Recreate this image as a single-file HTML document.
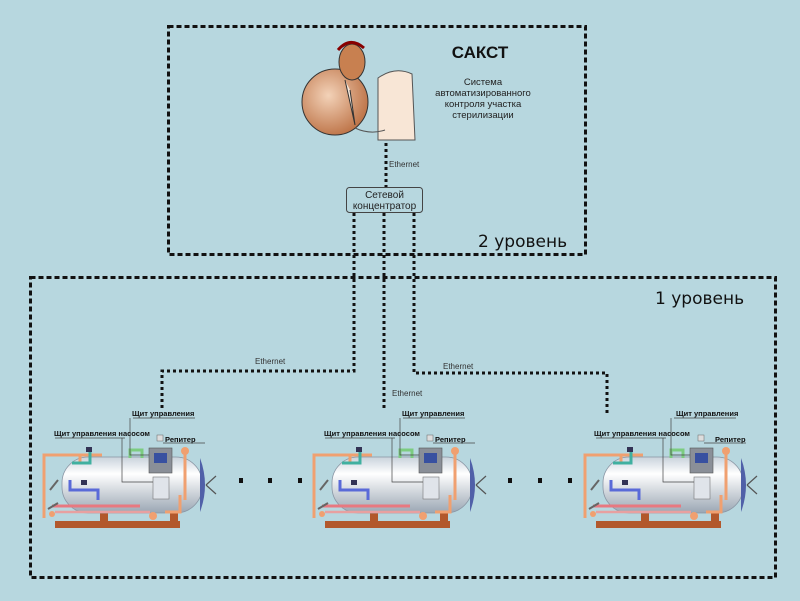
<!DOCTYPE html>
<html><head><meta charset="utf-8"><style>
html,body{margin:0;padding:0;background:#b7d7df;}
svg{display:block;font-family:"Liberation Sans",sans-serif;}
</style></head><body>
<svg width="800" height="601" viewBox="0 0 800 601">
<rect width="800" height="601" fill="#b7d7df"/>
<defs>
<linearGradient id="tk" x1="0" y1="0" x2="0" y2="1">
<stop offset="0" stop-color="#c9d3dc"/><stop offset="0.3" stop-color="#ffffff"/><stop offset="1" stop-color="#9aa6b3"/></linearGradient>
<radialGradient id="man" cx="0.4" cy="0.4" r="0.7"><stop offset="0" stop-color="#f3d2b8"/><stop offset="1" stop-color="#b86a3c"/></radialGradient>
<g id="ac">
 <rect x="25" y="121" width="125" height="7" fill="#b2582c"/>
 <rect x="70" y="100" width="8" height="25" fill="#b2582c"/>
 <rect x="140" y="100" width="8" height="25" fill="#b2582c"/>
 <rect x="32" y="57" width="140" height="56" rx="26" fill="url(#tk)" stroke="#8a96a4" stroke-width="0.8"/>
 <path d="M170 58 Q180 85 170 112" fill="#5060a8"/>
 <path d="M176 85 L186 76 M176 85 L186 94" stroke="#555" stroke-width="1.2"/>
 <path d="M14 118 V55 H72 M50 55 V62" stroke="#f0a070" stroke-width="3" fill="none"/>
 <path d="M42 63 H60 V50" stroke="#40b0a0" stroke-width="3" fill="none"/>
 <path d="M40 80 V90 H68 V100" stroke="#5a6ad8" stroke-width="3" fill="none"/>
 <path d="M22 106 H110" stroke="#e87880" stroke-width="3" fill="none"/>
 <path d="M25 112 H88 M82 112 H120" stroke="#e8a0a0" stroke-width="2.5" fill="none"/>
 <path d="M100 58 V50 H112 V58" stroke="#7ccc80" stroke-width="3" fill="none"/>
 <path d="M135 112 H150 V95" stroke="#f0a070" stroke-width="3" fill="none"/>
 <circle cx="22" cy="114" r="3" fill="#f0a070"/>
 <circle cx="155" cy="51" r="4" fill="#f0a070"/>
 <path d="M155 52 V100" stroke="#f0a070" stroke-width="3"/>
 <circle cx="123" cy="116" r="4" fill="#f0a070"/>
 <rect x="119" y="48" width="23" height="25" fill="#8a8f98" stroke="#555" stroke-width="0.6"/>
 <rect x="124" y="53" width="13" height="10" fill="#3850a0"/>
 <rect x="123" y="77" width="16" height="22" fill="#e0e4ea" stroke="#777" stroke-width="0.6"/>
 <rect x="127" y="35" width="6" height="6" fill="#ddd" stroke="#666" stroke-width="0.5"/>
 <rect x="56" y="47" width="6" height="5" fill="#335"/>
 <rect x="51" y="80" width="6" height="5" fill="#335"/>
 <path d="M20 90 L28 80 M18 109 L28 103" stroke="#666" stroke-width="2"/>
 <path d="M103 18 H165 M100 18 V55 H119" stroke="#444" stroke-width="0.7" fill="none"/>
 <path d="M25 38 H95 M92 38 V82 H123" stroke="#444" stroke-width="0.7" fill="none"/>
 <path d="M133 43 H175" stroke="#444" stroke-width="0.7" fill="none"/>
</g>
</defs>
<rect x="168.5" y="26.5" width="417" height="228" fill="none" stroke="#111" stroke-width="3" stroke-dasharray="5,3"/>
<rect x="30.5" y="277.5" width="745" height="300" fill="none" stroke="#111" stroke-width="3" stroke-dasharray="5,3"/>
<text x="478" y="247" font-size="17" fill="#111" font-family="DejaVu Sans,sans-serif">2 уровень</text>
<text x="655" y="304" font-size="17" fill="#111" font-family="DejaVu Sans,sans-serif">1 уровень</text>
<ellipse cx="335" cy="102" rx="33" ry="33" fill="url(#man)" stroke="#333" stroke-width="1"/>
<ellipse cx="352" cy="62" rx="13" ry="18" fill="#c88050" stroke="#333" stroke-width="1"/>
<path d="M338 50 Q350 36 364 48" stroke="#800" stroke-width="3" fill="none"/>
<path d="M345 80 L355 125 L350 90" stroke="#333" fill="#f5e8dc"/>
<path d="M378 78 Q395 66 412 74 L415 140 L378 140 Z" fill="#f8e6d6" stroke="#555" stroke-width="1"/>
<path d="M355 128 Q370 135 385 130" stroke="#555" fill="none"/>
<text x="480" y="58" font-size="17" font-weight="bold" text-anchor="middle" fill="#111">САКСТ</text>
<g font-size="9.5" fill="#222" text-anchor="middle">
<text x="483" y="85">Система</text><text x="483" y="96">автоматизированного</text>
<text x="483" y="107">контроля участка</text><text x="483" y="118">стерилизации</text></g>
<g stroke="#111" stroke-width="3" stroke-dasharray="3,3" fill="none">
<path d="M386 143 V187"/>
<path d="M354 213 V371 H162 V410"/>
<path d="M384 213 V408"/>
<path d="M414 213 V373 H607 V415"/>
</g>
<rect x="346.5" y="187.5" width="76" height="25" rx="3" fill="#b7d7df" stroke="#444"/>
<text x="384.5" y="198" font-size="10" text-anchor="middle" fill="#222">Сетевой</text>
<text x="384.5" y="209" font-size="10" text-anchor="middle" fill="#222">концентратор</text>
<g font-size="8" fill="#333"><text x="389" y="167">Ethernet</text><text x="255" y="364">Ethernet</text><text x="392" y="396">Ethernet</text><text x="443" y="369">Ethernet</text></g>
<use href="#ac" x="30" y="400"/>
<use href="#ac" x="300" y="400"/>
<use href="#ac" x="571" y="400"/>
<g font-size="7.5" font-weight="bold" fill="#111">
<text x="132" y="416">Щит управления</text><text x="54" y="436">Щит управления насосом</text><text x="165" y="442">Репитер</text>
<text x="402" y="416">Щит управления</text><text x="324" y="436">Щит управления насосом</text><text x="435" y="442">Репитер</text>
<text x="676" y="416">Щит управления</text><text x="594" y="436">Щит управления насосом</text><text x="715" y="442">Репитер</text>
</g>
<g fill="#111">
<rect x="239" y="478" width="4" height="5"/><rect x="268" y="478" width="4" height="5"/><rect x="298" y="478" width="4" height="5"/>
<rect x="508" y="478" width="4" height="5"/><rect x="538" y="478" width="4" height="5"/><rect x="568" y="478" width="4" height="5"/>
</g>
</svg>
</body></html>
